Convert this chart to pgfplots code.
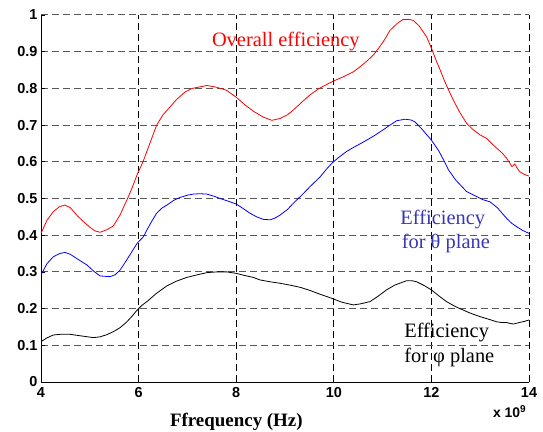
\documentclass[border=0pt]{standalone}
\usepackage{fontspec}
\setmainfont{Liberation Serif}
\setsansfont{Liberation Sans}
\usepackage{pgfplots}
\pgfplotsset{compat=1.18}
\definecolor{txtblue}{RGB}{55,55,180}
\begin{document}
\begin{tikzpicture}
\useasboundingbox (-41bp,-50bp) rectangle (502bp,382bp);
\begin{axis}[
  at={(0,0)}, anchor=south west,
  scale only axis, width=488bp, height=367bp,
  xmin=4, xmax=14, ymin=0, ymax=1,
  xtick={4,6,8,10,12,14},
  ytick={0,0.1,0.2,0.3,0.4,0.5,0.6,0.7,0.8,0.9,1},
  yticklabels={0,0.1,0.2,0.3,0.4,0.5,0.6,0.7,0.8,0.9,1},
  grid=major,
  x grid style={black, dash pattern=on 7bp off 4bp, line width=0.7bp},
  y grid style={black!65, dash pattern=on 7bp off 4bp, line width=1bp},
  axis x line=bottom, axis y line=left, axis line style={-, line width=0.7bp},
  tick align=inside, major tick length=4bp,
  tick style={black, line width=0.7bp},
  ticklabel style={font=\sffamily\bfseries\fontsize{14.5}{16}\selectfont},
  xticklabel style={yshift=-2bp},
  /pgf/number format/assume math mode=true,
  clip mode=individual,
]
\addplot[red, line width=0.8bp] coordinates {
(4.00,0.405)(4.12,0.44)(4.25,0.464)(4.38,0.478)(4.49,0.482)(4.60,0.475)(4.75,0.452)(4.87,0.437)(5.00,0.422)(5.10,0.412)(5.21,0.408)(5.35,0.415)(5.48,0.425)(5.62,0.455)(5.76,0.496)(5.87,0.53)(5.97,0.565)(6.09,0.60)(6.23,0.65)(6.37,0.70)(6.50,0.728)(6.58,0.74)(6.68,0.755)(6.78,0.77)(6.95,0.79)(7.10,0.80)(7.25,0.804)(7.40,0.808)(7.60,0.803)(7.80,0.795)(8.00,0.776)(8.18,0.755)(8.35,0.738)(8.55,0.722)(8.73,0.713)(8.90,0.718)(9.05,0.728)(9.17,0.741)(9.35,0.763)(9.51,0.782)(9.70,0.80)(9.96,0.818)(10.20,0.832)(10.40,0.845)(10.54,0.859)(10.70,0.877)(10.81,0.891)(10.95,0.915)(11.05,0.935)(11.15,0.958)(11.30,0.977)(11.42,0.988)(11.55,0.988)(11.63,0.985)(11.75,0.97)(11.90,0.941)(12.00,0.91)(12.10,0.875)(12.18,0.85)(12.27,0.82)(12.35,0.796)(12.45,0.768)(12.58,0.735)(12.72,0.705)(12.85,0.688)(13.00,0.673)(13.13,0.664)(13.25,0.648)(13.34,0.637)(13.45,0.624)(13.54,0.61)(13.65,0.587)(13.71,0.594)(13.76,0.582)(13.81,0.573)(13.90,0.566)(14.00,0.561)
};
\addplot[blue, line width=0.8bp] coordinates {
(4.00,0.292)(4.12,0.322)(4.25,0.341)(4.38,0.350)(4.49,0.353)(4.60,0.348)(4.75,0.335)(4.94,0.319)(5.08,0.302)(5.21,0.289)(5.41,0.287)(5.52,0.292)(5.62,0.305)(5.72,0.325)(5.82,0.346)(5.97,0.378)(6.10,0.396)(6.17,0.414)(6.27,0.438)(6.37,0.460)(6.48,0.474)(6.58,0.482)(6.72,0.495)(6.85,0.503)(7.00,0.509)(7.12,0.512)(7.25,0.513)(7.40,0.512)(7.55,0.506)(7.67,0.500)(7.85,0.492)(8.00,0.485)(8.15,0.472)(8.28,0.460)(8.42,0.450)(8.56,0.443)(8.70,0.442)(8.80,0.447)(8.90,0.455)(9.05,0.470)(9.17,0.487)(9.35,0.510)(9.51,0.532)(9.72,0.559)(9.85,0.580)(9.96,0.596)(10.10,0.612)(10.26,0.628)(10.40,0.639)(10.54,0.649)(10.70,0.661)(10.85,0.673)(11.01,0.687)(11.15,0.700)(11.29,0.712)(11.46,0.716)(11.58,0.714)(11.66,0.709)(11.80,0.690)(12.00,0.659)(12.15,0.630)(12.27,0.600)(12.35,0.578)(12.50,0.550)(12.72,0.519)(12.90,0.507)(13.05,0.497)(13.20,0.491)(13.35,0.475)(13.54,0.446)(13.65,0.432)(13.75,0.423)(13.87,0.413)(14.00,0.405)
};
\addplot[black, line width=0.8bp] coordinates {
(4.00,0.110)(4.12,0.120)(4.25,0.128)(4.40,0.130)(4.59,0.130)(4.80,0.126)(5.07,0.121)(5.21,0.123)(5.35,0.129)(5.48,0.137)(5.62,0.148)(5.76,0.164)(5.87,0.180)(5.97,0.196)(6.07,0.209)(6.17,0.219)(6.37,0.242)(6.58,0.262)(6.78,0.275)(6.99,0.285)(7.20,0.292)(7.40,0.298)(7.60,0.300)(7.81,0.300)(8.00,0.296)(8.18,0.290)(8.35,0.285)(8.49,0.278)(8.70,0.273)(8.90,0.269)(9.10,0.264)(9.31,0.258)(9.50,0.250)(9.70,0.240)(9.96,0.228)(10.15,0.218)(10.40,0.210)(10.55,0.213)(10.74,0.219)(10.90,0.233)(11.08,0.251)(11.25,0.264)(11.49,0.276)(11.60,0.276)(11.70,0.273)(11.85,0.263)(12.00,0.251)(12.15,0.235)(12.31,0.219)(12.50,0.205)(12.72,0.192)(12.85,0.185)(13.00,0.178)(13.15,0.172)(13.34,0.164)(13.45,0.162)(13.54,0.162)(13.60,0.160)(13.68,0.158)(13.80,0.162)(13.90,0.165)(14.00,0.169)
};
\node[anchor=base west, inner sep=0, red, font=\fontsize{20.5}{22}\selectfont] at (axis cs:7.50,0.914) {Overall efficiency};
\node[anchor=base west, inner sep=0, txtblue, font=\fontsize{20.5}{22}\selectfont] at (axis cs:11.36,0.428) {Efficiency};
\node[anchor=base west, inner sep=0, txtblue, font=\fontsize{20.5}{22}\selectfont] at (axis cs:11.39,0.365) {for θ plane};
\node[anchor=base west, inner sep=0, black, font=\fontsize{20.5}{22}\selectfont] at (axis cs:11.44,0.120) {Efficiency};
\node[anchor=base west, inner sep=0, black, font=\fontsize{20.5}{22}\selectfont] at (axis cs:11.44,0.054) {for φ plane};
\node[anchor=base west, inner sep=0, font=\bfseries\fontsize{19}{21}\selectfont] at (axis cs:6.64,-0.12) {Ffrequency (Hz)};
\node[anchor=base west, inner sep=0, font=\sffamily\bfseries\fontsize{14}{16}\selectfont] at (axis cs:13.26,-0.098) {x 10\raisebox{0.75ex}{\fontsize{10}{12}\selectfont 9}};
\end{axis}
\end{tikzpicture}
\end{document}
